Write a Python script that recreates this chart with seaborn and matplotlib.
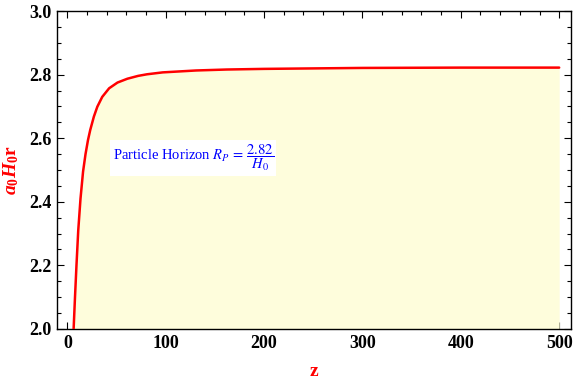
import numpy as np
import pandas as pd
import matplotlib
matplotlib.use("Agg")
import matplotlib.pyplot as plt
import seaborn as sns
from matplotlib.ticker import MultipleLocator, FormatStrFormatter

# data
z = [6.4, 7.8, 9.3, 11.1, 13.4, 16.0, 18.5, 21, 23.3, 27, 30.5, 35.5, 42.5, 51,
     61, 72, 81, 97, 131, 162, 200, 300, 400, 500]
a0H0r = [2.00, 2.10, 2.20, 2.31, 2.41, 2.495, 2.55, 2.594, 2.626, 2.668, 2.699, 2.730,
         2.757, 2.775, 2.787, 2.796, 2.801, 2.807, 2.813, 2.816, 2.818, 2.821, 2.822, 2.822]
label_text = r"Particle Horizon $R_P\,=\,\dfrac{2.82}{H_0}$"

df = pd.DataFrame({"z": z, "r": a0H0r})

sns.set_theme(style="white")
plt.rcParams["font.family"] = ["Liberation Serif", "DejaVu Serif"]
plt.rcParams["mathtext.fontset"] = "custom"
plt.rcParams["mathtext.it"] = "Liberation Serif:italic:bold"
plt.rcParams["mathtext.rm"] = "Liberation Serif:bold"
plt.rcParams["mathtext.bf"] = "Liberation Serif:bold"

fig = plt.figure(figsize=(5.76, 3.85), dpi=100)
ax = fig.add_axes([0.0998, 0.1455, 0.8915, 0.8259])

ax.fill_between(df["z"], 2.0, df["r"], color="#fefddc", lw=0, zorder=1)
sns.lineplot(data=df, x="z", y="r", color="red", lw=1.8, ax=ax, zorder=3,
             solid_joinstyle="round")

ax.set_xlim(-10, 512)
ax.set_ylim(2.0, 3.0)
ax.xaxis.set_major_locator(MultipleLocator(100))
ax.xaxis.set_minor_locator(MultipleLocator(20))
ax.yaxis.set_major_locator(MultipleLocator(0.2))
ax.yaxis.set_minor_locator(MultipleLocator(0.05))
ax.yaxis.set_major_formatter(FormatStrFormatter("%.1f"))

ax.tick_params(which="both", direction="in", top=True, right=True, bottom=True, left=True,
               color="black", width=0.8, labelcolor="black")
ax.tick_params(which="major", length=5, labelsize=13, pad=4)
ax.tick_params(which="minor", length=2.8)
for lab in ax.get_xticklabels() + ax.get_yticklabels():
    lab.set_fontweight("bold")
for s in ax.spines.values():
    s.set_color("black")
    s.set_linewidth(1.0)

ax.set_xlabel("z", color="red", fontsize=14, fontweight="bold", labelpad=8)
ax.set_ylabel(r"$a_0H_0$r", color="red", fontsize=14, fontweight="bold", labelpad=6)

ax.text(46, 2.538, label_text, color="blue", fontsize=10.5, va="center", ha="left",
        math_fontfamily="stix", zorder=4,
        bbox=dict(facecolor="white", edgecolor="none", pad=2.0))

fig.savefig("out.png", dpi=100)
